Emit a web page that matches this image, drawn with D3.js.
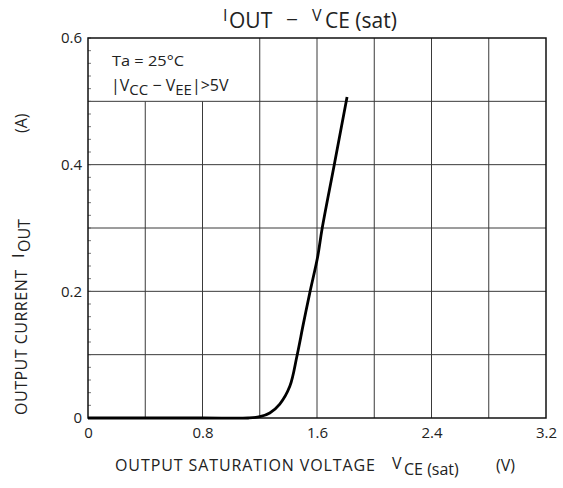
<!DOCTYPE html>
<html><head><meta charset="utf-8">
<script src="https://cdn.jsdelivr.net/npm/d3@7"></script>
<style>
body{margin:0;background:#fff;}
text{font-family:"Open Sans",sans-serif;fill:#222;}
</style></head>
<body><svg id="c" width="563" height="488"></svg>
<script>
const xTickValues = [0, 0.8, 1.6, 2.4, 3.2];
const yTickValues = [0, 0.2, 0.4, 0.6];
const xGridValues = [0.4, 0.8, 1.2, 1.6, 2.0, 2.4, 2.8];
const yGridValues = [0.1, 0.2, 0.3, 0.4, 0.5];
const curveV = [0, 0.8, 1.12, 1.2, 1.27, 1.34, 1.41, 1.46, 1.505, 1.55, 1.605, 1.635, 1.72, 1.81];
const curveI = [0, 0, 0, 0.002, 0.008, 0.022, 0.050, 0.098, 0.149, 0.198, 0.255, 0.298, 0.399, 0.507];

const svg = d3.select("#c");
const L = 88, R = 546, T = 38, B = 418;
const x = d3.scaleLinear().domain([0, 3.2]).range([L, R]);
const y = d3.scaleLinear().domain([0, 0.6]).range([B, T]);

// grid
const g = svg.append("g");
g.selectAll("line.v").data(xGridValues).enter().append("line")
  .attr("x1", d => x(d)).attr("x2", d => x(d))
  .attr("y1", B).attr("y2", d => d < 1.2 ? y(0.5) : T)
  .attr("stroke", "#3a3a3a").attr("stroke-width", 1);
g.selectAll("line.h").data(yGridValues).enter().append("line")
  .attr("y1", d => y(d)).attr("y2", d => y(d))
  .attr("x1", L).attr("x2", R)
  .attr("stroke", "#3a3a3a").attr("stroke-width", 1);

// minor ticks on left axis
const minor = d3.range(0, 0.6001, 0.02);
g.selectAll("line.m").data(minor).enter().append("line")
  .attr("x1", L).attr("x2", L + 3)
  .attr("y1", d => y(d)).attr("y2", d => y(d))
  .attr("stroke", "#555").attr("stroke-width", 0.8);

// frame
svg.append("rect").attr("x", L).attr("y", T).attr("width", R - L).attr("height", B - T)
  .attr("fill", "none").attr("stroke", "#111").attr("stroke-width", 1.5);

// axes
const fmt = d => d === 0 ? "0" : d3.format(".1f")(d);
const xAxis = d3.axisBottom(x).tickValues(xTickValues).tickSize(0).tickPadding(9).tickFormat(fmt);
svg.append("g").attr("transform", `translate(0,${B})`).call(xAxis)
  .call(a => a.select(".domain").remove())
  .selectAll("text").style("font-size", "15px").style("font-family", "'Open Sans',sans-serif").attr("fill", "#222");
const yAxis = d3.axisLeft(y).tickValues(yTickValues).tickSize(0).tickPadding(6).tickFormat(fmt);
svg.append("g").attr("transform", `translate(${L},0)`).call(yAxis)
  .call(a => a.select(".domain").remove())
  .selectAll("text").style("font-size", "15px").style("font-family", "'Open Sans',sans-serif").attr("fill", "#222");

// curve
const pts = curveV.map((v, i) => [v, curveI[i]]);
svg.append("path").datum(pts)
  .attr("d", d3.line().x(d => x(d[0])).y(d => y(d[1])).curve(d3.curveCatmullRom.alpha(0.5)))
  .attr("fill", "none").attr("stroke", "#000").attr("stroke-width", 2.8);

// title
svg.append("text").attr("x", 223).attr("y", 21).style("font-size", "16px").text("I");
svg.append("text").attr("x", 229).attr("y", 28).style("font-size", "21px").text("OUT");
svg.append("text").attr("x", 286).attr("y", 27).style("font-size", "21px").text("−");
svg.append("text").attr("x", 312).attr("y", 21).style("font-size", "16px").text("V");
svg.append("text").attr("x", 325).attr("y", 28).style("font-size", "21px").text("CE (sat)");

// annotation
svg.append("text").attr("x", 112).attr("y", 66).style("font-size", "15px")
  .attr("textLength", 72).attr("lengthAdjust", "spacingAndGlyphs").text("Ta = 25°C");
const a2 = svg.append("text").attr("x", 111).attr("y", 91).style("font-size", "16px");
a2.append("tspan").text("|V");
a2.append("tspan").text("CC").attr("dy", 4).style("font-size", "15px");
a2.append("tspan").text(" − V").attr("dy", -4);
a2.append("tspan").text("EE").attr("dy", 4).style("font-size", "15px");
a2.append("tspan").text("|>5V").attr("dy", -4);

// x label
svg.append("text").attr("x", 115).attr("y", 471).style("font-size", "16px")
  .attr("textLength", 260).attr("lengthAdjust", "spacing").text("OUTPUT SATURATION VOLTAGE");
svg.append("text").attr("x", 392).attr("y", 469).style("font-size", "16px").text("V");
svg.append("text").attr("x", 404).attr("y", 475).style("font-size", "16px").text("CE (sat)");
svg.append("text").attr("x", 496).attr("y", 471).style("font-size", "16px").text("(V)");

// y label
const yl = svg.append("g").attr("transform", "translate(27,0) rotate(-90)");
yl.append("text").attr("x", -415).attr("y", 0).style("font-size", "16px")
  .attr("textLength", 145).attr("lengthAdjust", "spacing").text("OUTPUT CURRENT");
yl.append("text").attr("x", -258).attr("y", -3).style("font-size", "16px").text("I");
yl.append("text").attr("x", -252).attr("y", 3).style("font-size", "16px").text("OUT");
yl.append("text").attr("x", -133).attr("y", 0).style("font-size", "16px").text("(A)");
</script></body></html>
